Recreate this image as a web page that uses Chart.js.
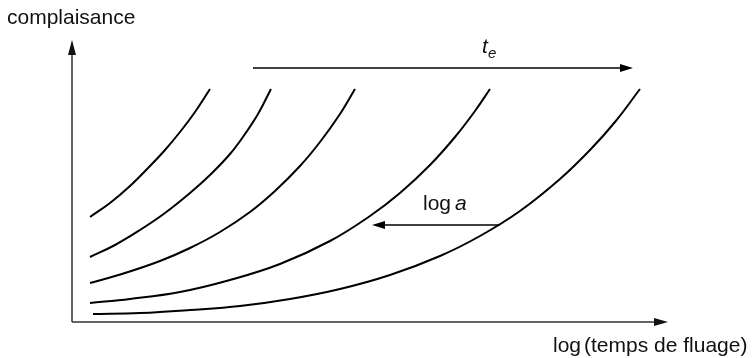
<!DOCTYPE html>
<html>
<head>
<meta charset="utf-8">
<script src="https://cdn.jsdelivr.net/npm/chart.js@4.4.1/dist/chart.umd.min.js"></script>
<style>
  html, body { margin: 0; padding: 0; background: #fff; }
  #wrap { width: 752px; height: 358px; }
</style>
</head>
<body>
<div id="wrap"><canvas id="creepChart"></canvas></div>
<script>
// creep curves, one per temperature (x = log time, y = compliance, arbitrary units)
const curve1X = [18, 38, 58, 78, 93, 108, 123, 138];
const curve1Y = [105, 119, 136, 156, 172, 190, 210, 233];
const curve2X = [18, 43, 68, 93, 118, 138, 158, 173, 186, 199];
const curve2Y = [65, 77, 92, 109, 129, 147, 168, 188, 208, 233];
const curve3X = [18, 53, 88, 118, 148, 178, 203, 228, 248, 268, 283];
const curve3Y = [39, 49, 61, 74, 90, 110, 131, 156, 180, 208, 233];
const curve4X = [18, 58, 108, 158, 208, 258, 298, 328, 358, 383, 403, 418];
const curve4Y = [19, 23, 30, 42, 58, 81, 106, 129, 157, 185, 211, 233];
const curve5X = [21, 68, 118, 168, 218, 268, 318, 368, 408, 448, 488, 518, 543, 568];
const curve5Y = [8, 9, 12, 16, 23, 33, 47, 66, 86, 111, 143, 172, 200, 233];

// axis extents
const xMax = 596;
const yMax = 282;

// shift arrows: t_e along the top, log a between the two right curves
const teArrow = { x1: 181, x2: 561, y: 254 };
const logaArrow = { x1: 428, x2: 300, y: 97 };

function toPoints(xs, ys) {
  return xs.map((x, i) => ({ x: x, y: ys[i] }));
}

const curves = [
  [curve1X, curve1Y],
  [curve2X, curve2Y],
  [curve3X, curve3Y],
  [curve4X, curve4Y],
  [curve5X, curve5Y]
];

const datasets = curves.map(c => ({
  data: toPoints(c[0], c[1]),
  showLine: true,
  borderColor: "#000",
  borderWidth: 2,
  pointRadius: 0,
  tension: 0.4,
  fill: false
}));

const FONT = '"Liberation Sans", Arial, sans-serif';

// arrowhead pointing from (fx,fy) towards (tx,ty)
function arrowHead(ctx, fx, fy, tx, ty, len, half) {
  const a = Math.atan2(ty - fy, tx - fx);
  ctx.beginPath();
  ctx.moveTo(tx, ty);
  ctx.lineTo(tx - len * Math.cos(a) + half * Math.sin(a), ty - len * Math.sin(a) - half * Math.cos(a));
  ctx.lineTo(tx - len * Math.cos(a) - half * Math.sin(a), ty - len * Math.sin(a) + half * Math.cos(a));
  ctx.closePath();
  ctx.fill();
}

const sketchAxes = {
  id: "sketchAxes",
  afterDraw(chart) {
    const ctx = chart.ctx;
    const xs = chart.scales.x, ys = chart.scales.y;
    const x0 = xs.getPixelForValue(0), y0 = ys.getPixelForValue(0);
    const xEnd = xs.getPixelForValue(xMax), yEnd = ys.getPixelForValue(yMax);
    ctx.save();

    // axes
    ctx.strokeStyle = "#333";
    ctx.fillStyle = "#111";
    ctx.lineWidth = 1.5;
    ctx.beginPath();
    ctx.moveTo(x0, y0);
    ctx.lineTo(x0, yEnd + 10);
    ctx.moveTo(x0, y0);
    ctx.lineTo(xEnd - 10, y0);
    ctx.stroke();
    arrowHead(ctx, x0, y0, x0, yEnd, 15, 4);
    arrowHead(ctx, x0, y0, xEnd, y0, 14, 4);

    // shift arrows
    ctx.strokeStyle = "#000";
    ctx.fillStyle = "#000";
    ctx.lineWidth = 1.3;
    [teArrow, logaArrow].forEach(a => {
      const px1 = xs.getPixelForValue(a.x1), px2 = xs.getPixelForValue(a.x2);
      const py = ys.getPixelForValue(a.y);
      const dir = Math.sign(px2 - px1);
      ctx.beginPath();
      ctx.moveTo(px1, py);
      ctx.lineTo(px2 - dir * 8, py);
      ctx.stroke();
      arrowHead(ctx, px1, py, px2, py, 13, 4);
    });

    // labels
    ctx.fillStyle = "#111";
    ctx.textBaseline = "alphabetic";
    ctx.textAlign = "left";
    ctx.font = "21px " + FONT;
    ctx.fillText("complaisance", 7, 24);

    const logW = ctx.measureText("log").width;
    ctx.fillText("log", 553, 352);
    ctx.fillText("(temps de fluage)", 553 + logW + 3, 352);

    ctx.fillText("log", 423, 210);
    ctx.font = "italic 21px " + FONT;
    ctx.fillText("a", 423 + logW + 4, 210);

    ctx.fillText("t", 482, 53);
    ctx.font = "italic 15px " + FONT;
    ctx.fillText("e", 488, 58);

    ctx.restore();
  }
};

new Chart(document.getElementById("creepChart"), {
  type: "scatter",
  data: { datasets: datasets },
  options: {
    responsive: true,
    maintainAspectRatio: false,
    animation: false,
    layout: { padding: { left: 72, right: 84, top: 40, bottom: 36 } },
    scales: {
      x: { type: "linear", min: 0, max: xMax, display: false },
      y: { type: "linear", min: 0, max: yMax, display: false }
    },
    plugins: {
      legend: { display: false },
      tooltip: { enabled: false }
    }
  },
  plugins: [sketchAxes]
});
</script>
</body>
</html>
